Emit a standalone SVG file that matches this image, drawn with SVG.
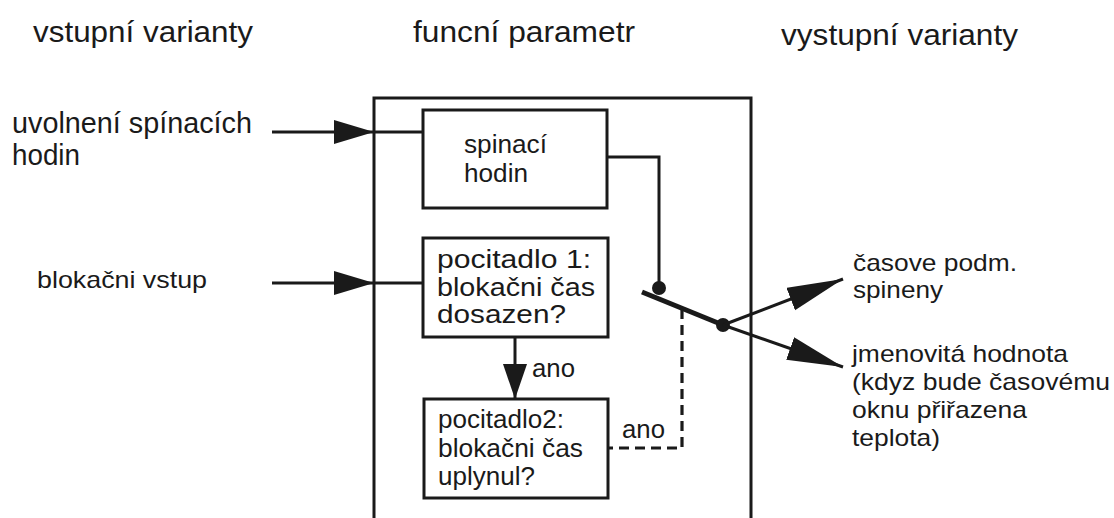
<svg xmlns="http://www.w3.org/2000/svg" width="1114" height="518" viewBox="0 0 1114 518">
<style>
text{font-family:"Liberation Sans",Arial,sans-serif;fill:#1a1a1a}
.h{font-size:30px}
.i{font-size:29px}
.l{font-size:25px}
.s{font-size:24px}
.r{font-size:24px}
.box{fill:#fff;stroke:#1a1a1a;stroke-width:3}
.w{fill:none;stroke:#1a1a1a;stroke-width:3}
.d{fill:none;stroke:#1a1a1a;stroke-width:3.2;stroke-dasharray:10 6}
</style>
<defs>
<marker id="a40" markerUnits="userSpaceOnUse" markerWidth="42" markerHeight="26" refX="40" refY="12" orient="auto" viewBox="0 0 42 26"><path d="M0,0 L40,12 L0,24 Z" fill="#1a1a1a"/></marker>
<marker id="a35" markerUnits="userSpaceOnUse" markerWidth="37" markerHeight="26" refX="35" refY="12" orient="auto" viewBox="0 0 37 26"><path d="M0,0 L35,12 L0,24 Z" fill="#1a1a1a"/></marker>
<marker id="a56" markerUnits="userSpaceOnUse" markerWidth="58" markerHeight="26" refX="56" refY="12" orient="auto" viewBox="0 0 58 26"><path d="M0,0 L56,12 L0,24 Z" fill="#1a1a1a"/></marker>
</defs>
<g id="headings">
<text class="h" x="33" y="42" textLength="220" lengthAdjust="spacingAndGlyphs">vstupní varianty</text>
<text class="h" x="413" y="42" textLength="222" lengthAdjust="spacingAndGlyphs">funcní parametr</text>
<text class="h" x="781" y="45" textLength="237" lengthAdjust="spacingAndGlyphs">vystupní varianty</text>
</g>
<g id="frame"><path class="w" d="M374,518 V98 H751 V518"/></g>
<g id="input1"><text class="i" x="12" y="133" textLength="240" lengthAdjust="spacingAndGlyphs">uvolnení spínacích</text><text class="i" x="12" y="165" textLength="68" lengthAdjust="spacingAndGlyphs">hodin</text></g>
<g id="input2"><text class="s" x="37" y="288" textLength="170" lengthAdjust="spacingAndGlyphs">blokačni vstup</text></g>
<g id="box-spinaci"><rect class="box" x="423" y="110" width="184" height="98"/><text class="l" x="464" y="153" textLength="83" lengthAdjust="spacingAndGlyphs">spinací</text><text class="l" x="464" y="182" textLength="64" lengthAdjust="spacingAndGlyphs">hodin</text></g>
<g id="box-pocitadlo1"><rect class="box" x="423" y="238" width="185" height="99"/><text class="l" x="437" y="268" textLength="154" lengthAdjust="spacingAndGlyphs">pocitadlo 1:</text><text class="l" x="437" y="296" textLength="158" lengthAdjust="spacingAndGlyphs">blokačni čas</text><text class="l" x="437" y="323" textLength="129" lengthAdjust="spacingAndGlyphs">dosazen?</text></g>
<g id="box-pocitadlo2"><rect class="box" x="424" y="399" width="184" height="99"/><text class="l" x="438" y="428" textLength="126" lengthAdjust="spacingAndGlyphs">pocitadlo2:</text><text class="l" x="438" y="457" textLength="145" lengthAdjust="spacingAndGlyphs">blokačni čas</text><text class="l" x="438" y="485" textLength="97" lengthAdjust="spacingAndGlyphs">uplynul?</text></g>
<g id="out1"><text class="r" x="853" y="271" textLength="164" lengthAdjust="spacingAndGlyphs">časove podm.</text><text class="r" x="853" y="298" textLength="90" lengthAdjust="spacingAndGlyphs">spineny</text></g>
<g id="out2"><text class="r" x="852" y="362" textLength="216" lengthAdjust="spacingAndGlyphs">jmenovitá hodnota</text><text class="r" x="852" y="390" textLength="258" lengthAdjust="spacingAndGlyphs">(kdyz bude časovému</text><text class="r" x="852" y="418" textLength="175" lengthAdjust="spacingAndGlyphs">oknu přiřazena</text><text class="r" x="852" y="446" textLength="88" lengthAdjust="spacingAndGlyphs">teplota)</text></g>
<g id="connectors">
<path class="w" d="M272,132 H374" marker-end="url(#a40)"/>
<path class="w" d="M374,132 H423"/>
<path class="w" d="M272,283 H374" marker-end="url(#a40)"/>
<path class="w" d="M374,283 H423"/>
<path class="w" d="M515,337 V399" marker-end="url(#a35)"/>
<text class="l" x="532" y="377" textLength="43" lengthAdjust="spacingAndGlyphs">ano</text>
<path class="w" d="M607,157 H659 V288"/>
<circle cx="659" cy="288" r="7" fill="#1a1a1a"/>
<path d="M642,292 L723,325" stroke="#1a1a1a" stroke-width="5" fill="none"/>
<circle cx="723" cy="325" r="7" fill="#1a1a1a"/>
<path class="w" d="M723,325 L843,279" marker-end="url(#a56)"/>
<path class="w" d="M723,325 L843,367" marker-end="url(#a56)"/>
<path class="d" d="M682,309 V448 H608"/>
<text class="l" x="622" y="438" textLength="43" lengthAdjust="spacingAndGlyphs">ano</text>
</g>
</svg>
